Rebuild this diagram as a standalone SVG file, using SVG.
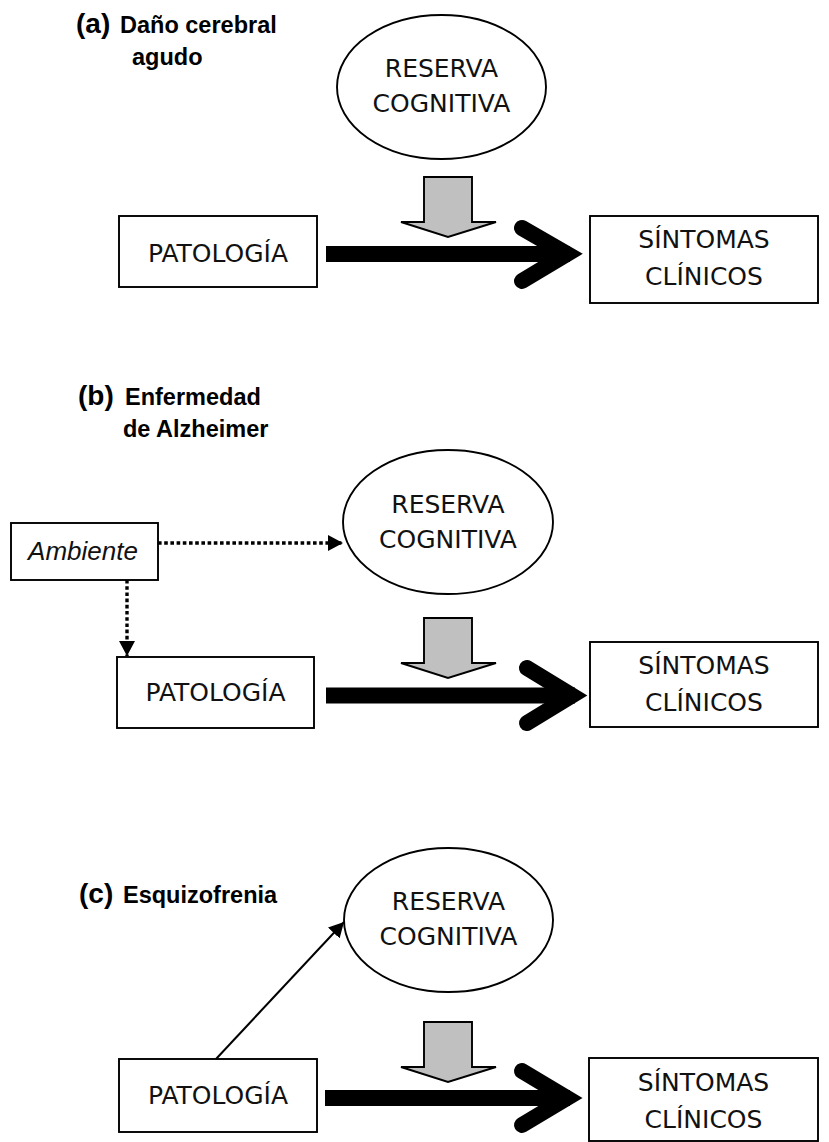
<svg xmlns="http://www.w3.org/2000/svg" xmlns:xlink="http://www.w3.org/1999/xlink" width="829" height="1142" viewBox="0 0 829 1142">
  <style>
    .box { fill: #fff; stroke: #000; stroke-width: 1.9; }
    .oval { fill: #fff; stroke: #000; stroke-width: 1.9; }
    .txt { font-family: "DejaVu Sans", Verdana, sans-serif; font-size: 25px; fill: #111; text-anchor: middle; }
    .amb { font-family: "Liberation Sans", Arial, sans-serif; font-style: italic; font-size: 26px; fill: #111; text-anchor: middle; }
    .tag { font-family: "Liberation Sans", Arial, sans-serif; font-weight: bold; font-size: 28px; fill: #000; }
    .cap { font-family: "Liberation Sans", Arial, sans-serif; font-weight: bold; font-size: 23.5px; fill: #000; }
    .shaft { stroke: #000; stroke-width: 16; fill: none; }
    .head { stroke: #000; stroke-width: 16; fill: none; stroke-linecap: round; stroke-linejoin: miter; stroke-miterlimit: 4; }
    .mod { fill: #c0c0c0; stroke: #000; stroke-width: 1.9; stroke-linejoin: miter; }
    .dot { stroke: #000; stroke-width: 3.4; stroke-dasharray: 3.6 2.6; fill: none; }
    .thin { stroke: #000; stroke-width: 2; fill: none; }
  </style>
  <defs>
    <!-- grey block arrow: reserve acting on the pathway -->
    <path id="block" d="M424,0 H472 V45 H496 L448,60 L401,45 H424 Z"/>
    <marker id="tri" viewBox="0 0 15 16" refX="15" refY="8" markerWidth="15" markerHeight="16" markerUnits="userSpaceOnUse" orient="auto">
      <path d="M0,0 L15,8 L0,16 Z" fill="#000"/>
    </marker>
  </defs>

  <!-- ===== (a) ===== -->
  <g id="label-a">
    <text class="tag" x="76" y="33">(a)</text>
    <text class="cap" x="120" y="33">Daño cerebral</text>
    <text class="cap" x="132" y="65">agudo</text>
  </g>
  <g id="reserva-a">
    <ellipse class="oval" cx="441.5" cy="87" rx="104.5" ry="72"/>
    <text class="txt" x="441.5" y="77">RESERVA</text>
    <text class="txt" x="441.5" y="112">COGNITIVA</text>
  </g>
  <g id="patologia-a">
    <rect class="box" x="119" y="216" width="198" height="71"/>
    <text class="txt" x="218" y="262">PATOLOGÍA</text>
  </g>
  <g id="sintomas-a">
    <rect class="box" x="590" y="216" width="228" height="87"/>
    <text class="txt" x="704" y="248">SÍNTOMAS</text>
    <text class="txt" x="704" y="285">CLÍNICOS</text>
  </g>

  <!-- ===== (b) ===== -->
  <g id="label-b">
    <text class="tag" x="78" y="405">(b)</text>
    <text class="cap" x="125" y="405">Enfermedad</text>
    <text class="cap" x="123" y="437">de Alzheimer</text>
  </g>
  <g id="ambiente-b">
    <rect class="box" x="11" y="523" width="147" height="57"/>
    <text class="amb" x="83" y="560">Ambiente</text>
  </g>
  <g id="reserva-b">
    <ellipse class="oval" cx="448" cy="522" rx="105" ry="72"/>
    <text class="txt" x="448" y="513">RESERVA</text>
    <text class="txt" x="448" y="548">COGNITIVA</text>
  </g>
  <g id="patologia-b">
    <rect class="box" x="117" y="657" width="197" height="71"/>
    <text class="txt" x="215.5" y="701">PATOLOGÍA</text>
  </g>
  <g id="sintomas-b">
    <rect class="box" x="590" y="642" width="228" height="85"/>
    <text class="txt" x="704" y="674">SÍNTOMAS</text>
    <text class="txt" x="704" y="711">CLÍNICOS</text>
  </g>

  <!-- ===== (c) ===== -->
  <g id="label-c">
    <text class="tag" x="79" y="903">(c)</text>
    <text class="cap" x="123" y="903">Esquizofrenia</text>
  </g>
  <g id="reserva-c">
    <ellipse class="oval" cx="448.5" cy="920" rx="104.5" ry="72"/>
    <text class="txt" x="448.5" y="910">RESERVA</text>
    <text class="txt" x="448.5" y="945">COGNITIVA</text>
  </g>
  <g id="patologia-c">
    <rect class="box" x="119" y="1059" width="198" height="73"/>
    <text class="txt" x="218" y="1104">PATOLOGÍA</text>
  </g>
  <g id="sintomas-c">
    <rect class="box" x="589" y="1058" width="229" height="83"/>
    <text class="txt" x="703.5" y="1091">SÍNTOMAS</text>
    <text class="txt" x="703.5" y="1128">CLÍNICOS</text>
  </g>

  <!-- ===== connectors ===== -->
  <g id="connectors">
    <!-- (a) pathology to symptoms, moderated by reserve -->
    <line class="shaft" x1="326" y1="254" x2="570" y2="254"/>
    <polyline class="head" points="522,228 567,254 522,281"/>
    <use xlink:href="#block" class="mod" transform="translate(0,177)"/>

    <!-- (b) -->
    <line class="dot" x1="158" y1="543" x2="343" y2="543" marker-end="url(#tri)"/>
    <line class="dot" x1="127" y1="580" x2="127" y2="656" marker-end="url(#tri)"/>
    <line class="shaft" x1="326" y1="695.5" x2="575" y2="695.5"/>
    <polyline class="head" points="527,668 572,695.5 527,723"/>
    <use xlink:href="#block" class="mod" transform="translate(0,618)"/>

    <!-- (c) -->
    <line class="thin" x1="216" y1="1059" x2="344" y2="922" marker-end="url(#tri)"/>
    <line class="shaft" x1="325" y1="1098" x2="570" y2="1098"/>
    <polyline class="head" points="522,1071 567,1098 522,1125"/>
    <use xlink:href="#block" class="mod" transform="translate(0,1022)"/>
  </g>
</svg>
